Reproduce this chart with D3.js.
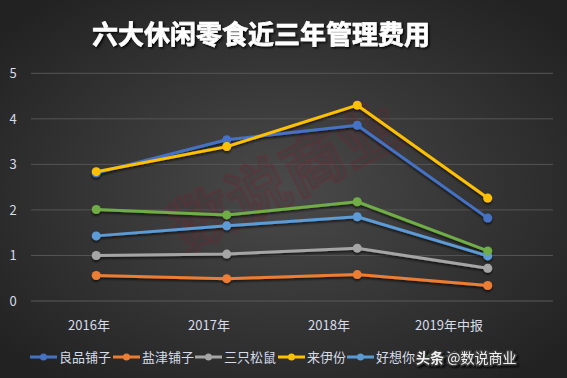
<!DOCTYPE html>
<html>
<head>
<meta charset="utf-8">
<script src="https://cdn.jsdelivr.net/npm/d3@7/dist/d3.min.js"></script>
<style>
  body { margin: 0; background: #2a2a2a; }
  svg { display: block; font-family: "Noto Sans CJK SC", "Noto Sans", sans-serif; }
</style>
</head>
<body>
<div id="chart"></div>
<script>
// categories and series
var years = ["2016年", "2017年", "2018年", "2019年中报"];
var names = ["良品铺子", "盐津铺子", "三只松鼠", "来伊份", "好想你", "洽洽食品"];
var liangpin = [2.81, 3.54, 3.86, 1.82];
var yanjin = [0.56, 0.49, 0.58, 0.34];
var sanzhi = [1.00, 1.03, 1.16, 0.72];
var laiyifen = [2.84, 3.39, 4.30, 2.26];
var haoxiangni = [1.43, 1.65, 1.85, 0.99];
var qiaqia = [2.01, 1.89, 2.18, 1.10];
var yTicks = [0, 1, 2, 3, 4, 5];
var colors = ["#4472c4", "#ed7d31", "#a5a5a5", "#ffc000", "#5b9bd5", "#70ad47"];

var series = [liangpin, yanjin, sanzhi, laiyifen, haoxiangni, qiaqia];
var W = 567, H = 378;

var svg = d3.select("#chart").append("svg")
  .attr("width", W).attr("height", H);

var defs = svg.append("defs");
var grad = defs.append("radialGradient").attr("id", "bg")
  .attr("cx", "50%").attr("cy", "50%").attr("r", "65%");
grad.append("stop").attr("offset", "0%").attr("stop-color", "#4a4a4a");
grad.append("stop").attr("offset", "100%").attr("stop-color", "#222222");

var sh = defs.append("filter").attr("id", "shadow")
  .attr("x", "-10%").attr("y", "-10%").attr("width", "120%").attr("height", "130%");
sh.append("feDropShadow").attr("dx", 0).attr("dy", 2).attr("stdDeviation", 1.2)
  .attr("flood-color", "#000").attr("flood-opacity", 0.6);

var tsh = defs.append("filter").attr("id", "tshadow");
tsh.append("feDropShadow").attr("dx", 1.5).attr("dy", 1.5).attr("stdDeviation", 0.8)
  .attr("flood-color", "#000").attr("flood-opacity", 0.9);

svg.append("rect").attr("width", W).attr("height", H).attr("fill", "url(#bg)");

// title
svg.append("text")
  .attr("x", 261).attr("y", 44)
  .attr("text-anchor", "middle")
  .attr("font-size", 26).attr("font-weight", "bold")
  .attr("fill", "#ffffff")
  .attr("stroke", "#ffffff").attr("stroke-width", 0.6)
  .attr("filter", "url(#tshadow)")
  .text("六大休闲零食近三年管理费用");

// scales
var x = d3.scaleBand().domain(years).range([31, 553]);
var xLabel = d3.scaleBand().domain(years).range([29, 509]);
var y = d3.scaleLinear().domain([0, 5]).range([301, 73.3]);

// gridlines
svg.append("g").selectAll("line")
  .data(yTicks).enter().append("line")
  .attr("x1", 31).attr("x2", 553)
  .attr("y1", function (d) { return y(d); })
  .attr("y2", function (d) { return y(d); })
  .attr("stroke", function (d) { return d === 0 ? "#5a5a5a" : "#555555"; })
  .attr("stroke-width", 1);

// y axis labels
svg.append("g").selectAll("text")
  .data(yTicks).enter().append("text")
  .attr("x", 13)
  .attr("y", function (d) { return y(d) + 5; })
  .attr("text-anchor", "middle")
  .attr("font-size", 13)
  .attr("fill", "#d6dde8")
  .text(function (d) { return d; });

// x axis labels
svg.append("g").selectAll("text")
  .data(years).enter().append("text")
  .attr("x", function (d) { return xLabel(d) + xLabel.bandwidth() / 2; })
  .attr("y", 330)
  .attr("text-anchor", "middle")
  .attr("font-size", 13)
  .attr("fill", "#d6dde8")
  .text(function (d) { return d; });

// watermark in plot
svg.append("text")
  .attr("transform", "translate(288,182) rotate(-27)")
  .attr("text-anchor", "middle")
  .attr("dominant-baseline", "middle")
  .attr("font-size", 62).attr("font-weight", "bold")
  .attr("fill", "rgba(80,30,40,0.08)")
  .attr("stroke", "rgba(115,35,50,0.30)")
  .attr("stroke-width", 2.5)
  .text("数说商业");

// lines
var line = d3.line()
  .x(function (d, i) { return x(years[i]) + x.bandwidth() / 2; })
  .y(function (d) { return y(d); });

var g = svg.append("g").attr("filter", "url(#shadow)");
var order = [1, 2, 4, 5, 0, 3];
order.forEach(function (k) {
  var s = g.append("g");
  s.append("path")
    .datum(series[k])
    .attr("d", line)
    .attr("fill", "none")
    .attr("stroke", colors[k])
    .attr("stroke-width", 3)
    .attr("stroke-linejoin", "round");
  s.selectAll("circle")
    .data(series[k]).enter().append("circle")
    .attr("cx", function (d, i) { return x(years[i]) + x.bandwidth() / 2; })
    .attr("cy", function (d) { return y(d); })
    .attr("r", 4.5)
    .attr("fill", colors[k]);
});

// legend
var legX = [30, 113, 195, 278, 347, 417];
var leg = svg.append("g");
names.forEach(function (n, i) {
  var lg = leg.append("g").attr("transform", "translate(" + legX[i] + ",357)");
  lg.append("line").attr("x1", 0).attr("x2", 27).attr("y1", 0).attr("y2", 0)
    .attr("stroke", colors[i]).attr("stroke-width", 3);
  lg.append("circle").attr("cx", 13.5).attr("cy", 0).attr("r", 3.5).attr("fill", colors[i]);
  lg.append("text").attr("x", 29).attr("y", 5)
    .attr("font-size", 13).attr("fill", "#d6dde8").text(n);
});

// site watermark on top of last legend entry
var wm = svg.append("text")
  .attr("x", 416).attr("y", 363)
  .attr("font-size", 14)
  .attr("fill", "#f2f2f2")
  .attr("stroke", "#3a3a3a").attr("stroke-width", 3)
  .attr("paint-order", "stroke")
  .attr("filter", "url(#tshadow)");
wm.append("tspan").attr("font-weight", "bold").text("头条 ");
wm.append("tspan").text("@数说商业");
</script>
</body>
</html>
